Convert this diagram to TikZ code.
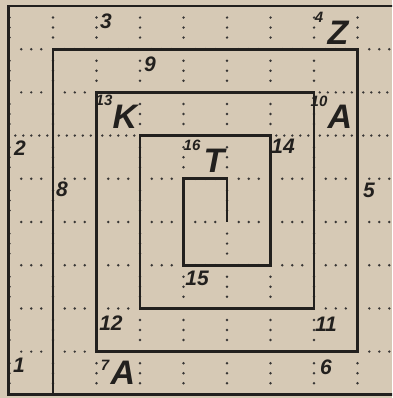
\documentclass[tikz,border=0pt]{standalone}
\usepackage{fontspec}
\setmainfont{Liberation Sans}
\definecolor{paper}{RGB}{214,201,181}
\definecolor{ink}{RGB}{34,32,30}
\begin{document}
\begin{tikzpicture}[x=1pt,y=-1pt,
  spiral/.style={draw=ink,line width=2.9pt,line join=miter},
  dotmark/.style={fill=ink!90,draw=none},
  big/.style={font=\fontsize{34}{34}\selectfont\bfseries\itshape,text=ink,inner sep=0pt},
  num/.style={font=\fontsize{21}{21}\selectfont\bfseries\itshape,text=ink,inner sep=0pt},
  sml/.style={font=\fontsize{15}{15}\selectfont\bfseries\itshape,text=ink,inner sep=0pt}]
\useasboundingbox (0,0) rectangle (392,398);
\fill[paper] (0,0) rectangle (392,398);
\begin{scope}
\clip (0,0) rectangle (392,398);
% vertical dot groups
\foreach \i in {0,...,8}{\foreach \j in {0,...,8}{
  \foreach \d in {-10,0,10}{\fill[dotmark] ({9.5+43.5*\i},{6+43.2*(\j+0.5)+\d}) circle (1.35);}}}
% horizontal dot groups, three dots
\foreach \j in {1,4,5,6,7,8}{\foreach \i in {0,...,8}{
  \foreach \d in {-10,0,10}{\fill[dotmark] ({9.5+43.5*(\i+0.5)+\d},{6+43.2*\j}) circle (1.35);}}}
\foreach \i in {0,...,6}{
  \foreach \d in {-10,0,10}{\fill[dotmark] ({9.5+43.5*(\i+0.5)+\d},{6+43.2*2}) circle (1.35);}}
% five-dot groups
\foreach \i in {7,8}{
  \foreach \d in {-16,-8,0,8,16}{\fill[dotmark] ({9.5+43.5*(\i+0.5)+\d},{6+43.2*2}) circle (1.35);}}
\foreach \i in {0,...,8}{
  \foreach \d in {-16,-8,0,8,16}{\fill[dotmark] ({9.5+43.5*(\i+0.5)+\d},{6+43.2*3}) circle (1.35);}}
% outer frame
\draw[spiral] (420,6) -- (8.5,6) -- (8.5,394.8) -- (420,394.8);
% spiral
\draw[spiral] (53,394.8) -- (53,49.2) -- (357.5,49.2) -- (357.5,351.6)
  -- (96.5,351.6) -- (96.5,92.4) -- (314,92.4) -- (314,308.4)
  -- (140,308.4) -- (140,135.6) -- (270.5,135.6) -- (270.5,265.2)
  -- (183.5,265.2) -- (183.5,178.8) -- (227,178.8) -- (227,222);
\end{scope}
% labels
\node[num] (n3) at (106,21) {3};
\node[sml] (n4) at (319,17) {4};
\node[big] (lZ) at (338,33) {Z};
\node[num] (n9) at (150,64) {9};
\node[sml] (n13) at (104,100) {13};
\node[big] (lK) at (125,117) {K};
\node[sml] (n10) at (319,101) {10};
\node[big] (lA1) at (340,117) {A};
\node[num] (n2) at (20,148) {2};
\node[sml] (n16) at (192,145) {16};
\node[big] (lT) at (214,161) {T};
\node[num] (n14) at (283,146) {14};
\node[num] (n8) at (62,189) {8};
\node[num] (n5) at (369,190) {5};
\node[num] (n15) at (197,278) {15};
\node[num] (n12) at (111,323) {12};
\node[num] (n11) at (326,324) {11};
\node[num] (n1) at (19,365) {1};
\node[sml] (n7) at (105,365) {7};
\node[big] (lA2) at (123,373) {A};
\node[num] (n6) at (326,367) {6};
\end{tikzpicture}
\end{document}
